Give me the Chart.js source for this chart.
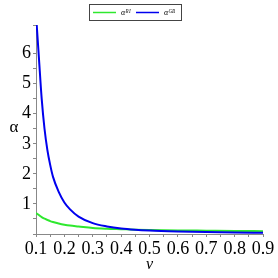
<!DOCTYPE html>
<html>
<head>
<meta charset="utf-8">
<script src="https://cdn.jsdelivr.net/npm/chart.js@4/dist/chart.umd.min.js"></script>
<style>
  html, body { margin: 0; padding: 0; background: #fff; }
  #wrap { width: 278px; height: 278px; }
</style>
</head>
<body>
<div id="wrap"><canvas id="plot"></canvas></div>
<script>
// values
const nu = [0.1, 0.11, 0.12, 0.13, 0.14, 0.15, 0.16, 0.18, 0.2, 0.22, 0.25, 0.3, 0.35, 0.4, 0.45, 0.5, 0.6, 0.7, 0.8, 0.9];
const alphaRI = [0.70, 0.63, 0.56, 0.51, 0.47, 0.43, 0.40, 0.35, 0.31, 0.28, 0.25, 0.20, 0.175, 0.16, 0.145, 0.135, 0.12, 0.11, 0.10, 0.095];
const alphaGB = [7.3, 5.9, 4.5, 3.5, 2.8, 2.3, 1.9, 1.4, 1.05, 0.82, 0.58, 0.36, 0.25, 0.18, 0.14, 0.115, 0.085, 0.065, 0.05, 0.04];
const seriesNames = ['\u03b1\u1d3f\u1d35', '\u03b1\u1d33\u1d2e'];
const seriesColors = ['#2ee82e', '#0000ee'];
const yTitle = '\u03b1';

const serif = "'Liberation Serif', 'DejaVu Serif', serif";

function pts(ys) {
    return nu.map((x, i) => ({ x: x, y: ys[i] }));
}

// boxed legend like the maple plot, plus the upright alpha axis title
const boxLegend = {
    id: 'boxLegend',
    afterDraw(chart) {
        const ctx = chart.ctx;
        ctx.save();
        ctx.strokeStyle = '#444';
        ctx.lineWidth = 1;
        ctx.strokeRect(89.5, 4.5, 92, 16);
        ctx.font = "italic 8px " + serif;
        ctx.textBaseline = 'middle';
        ctx.fillStyle = '#000';
        const starts = [93, 136];
        chart.data.datasets.forEach((ds, i) => {
            const x0 = starts[i];
            ctx.strokeStyle = ds.borderColor;
            ctx.lineWidth = 1.5;
            ctx.beginPath();
            ctx.moveTo(x0, 12.5);
            ctx.lineTo(x0 + 23, 12.5);
            ctx.stroke();
            ctx.fillText(ds.label, x0 + 28, 13);
        });

        const area = chart.chartArea;
        ctx.font = "17px " + serif;
        ctx.textAlign = 'center';
        ctx.fillText(yTitle, 14, (area.top + area.bottom) / 2 - 2);
        ctx.restore();
    }
};

new Chart(document.getElementById('plot'), {
    type: 'line',
    data: {
        datasets: [
            { label: seriesNames[0], data: pts(alphaRI), borderColor: seriesColors[0], borderWidth: 2, pointRadius: 0, cubicInterpolationMode: 'monotone', order: 2 },
            { label: seriesNames[1], data: pts(alphaGB), borderColor: seriesColors[1], borderWidth: 2, pointRadius: 0, cubicInterpolationMode: 'monotone', order: 1 }
        ]
    },
    options: {
        responsive: true,
        maintainAspectRatio: false,
        animation: false,
        layout: { padding: { top: 25, right: 15, left: 0, bottom: 0 } },
        plugins: { legend: { display: false }, tooltip: { enabled: false } },
        scales: {
            x: {
                type: 'linear',
                min: 0.1,
                max: 0.9,
                afterFit: s => { s.height = 44; },
                grid: { drawOnChartArea: false, color: '#888', tickLength: 3 },
                border: { color: '#888' },
                ticks: {
                    stepSize: 0.05,
                    autoSkip: false,
                    maxRotation: 0,
                    padding: 1,
                    color: '#000',
                    font: { family: serif, size: 18 },
                    callback: v => {
                        const r = Math.round(v * 100);
                        return r % 10 === 0 ? (r / 100).toFixed(1) : '';
                    }
                },
                title: { display: true, text: 'v', color: '#000', font: { family: serif, size: 16, style: 'italic' }, padding: { top: 0, bottom: 4 } }
            },
            y: {
                min: 0,
                max: 6.95,
                afterFit: s => { s.width = 36; },
                grid: { drawOnChartArea: false, color: '#888', tickLength: 3 },
                border: { color: '#888' },
                ticks: {
                    stepSize: 0.5,
                    autoSkip: false,
                    padding: 2,
                    color: '#000',
                    font: { family: serif, size: 18 },
                    callback: v => (Math.abs(v - Math.round(v)) < 1e-6 && v > 0) ? String(Math.round(v)) : ''
                }
            }
        }
    },
    plugins: [boxLegend]
});
</script>
</body>
</html>
